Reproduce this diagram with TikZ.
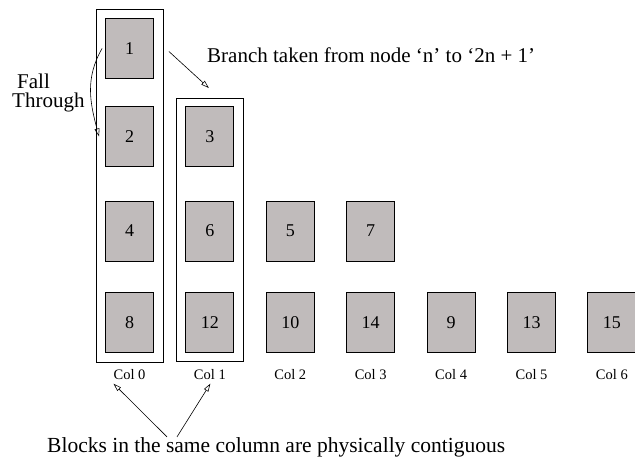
\documentclass[tikz,border=0pt]{standalone}
\usepackage{fontspec}
\setmainfont{Liberation Serif}
\usepackage{xcolor}
\usetikzlibrary{arrows.meta, positioning, fit, calc}
\definecolor{blockgray}{RGB}{192,187,187}

\begin{document}
\begin{tikzpicture}[x=1pt, y=1pt]
\tikzstyle{block}=[rectangle, draw, line width=0.9pt, fill=blockgray, minimum width=48pt, minimum height=60pt, inner sep=0pt, font=\fontsize{18}{18}\selectfont]
\tikzstyle{column}=[rectangle, draw, line width=0.7pt, inner sep=9pt]
\tikzstyle{collabel}=[font=\fontsize{14.5}{14.5}\selectfont]
\tikzstyle{caption}=[font=\fontsize{21}{19.5}\selectfont, inner sep=1pt]
\tikzstyle{arrow}=[-{Triangle[open, length=8pt, width=5pt]}, line width=0.6pt]

\useasboundingbox (0,0) rectangle (635,457);

% blocks: number / column / row height
\foreach \n/\c/\y in {1/0/408.5, 2/0/320.5, 3/1/320.5, 4/0/226, 6/1/226, 5/2/226, 7/3/226,
                      8/0/134.5, 12/1/134.5, 10/2/134.5, 14/3/134.5, 9/4/134.5, 13/5/134.5, 15/6/134.5}
  \node[block] (b\n) at (129.5+80.4*\c, \y) {\n};

\foreach \c in {0,...,6}
  \node[collabel] (col\c) at (129.5+80.4*\c, 82) {Col \c};

\node[column, fit=(b1)(b8)] (colZero) {};
\node[column, fit=(b3)(b12), inner ysep=8pt] (colOne) {};

\node[caption, anchor=base west] (branch) at (206,394) {Branch taken from node ‘n’ to ‘2n + 1’};
\node[caption, anchor=base west, align=left] (fall) at (11,349) {\hspace*{5pt}Fall\\Through};
\node[caption, anchor=base west, font=\fontsize{21.5}{21.5}\selectfont] (note) at (46,4) {Blocks in the same column are physically contiguous};

\draw[arrow] ([xshift=-3pt]b1.west) to[out=240, in=105] ([xshift=-6pt]b2.west);
\draw[arrow] ([shift={(15pt,-3pt)}]b1.east) -- ([shift={(-1pt,18pt)}]b3.north);
\draw[arrow] ([xshift=121pt]note.north west) -- ([xshift=-16pt]col0.south);
\draw[arrow] ([xshift=131pt]note.north west) -- ([xshift=0.5pt]col1.south);

\end{tikzpicture}
\end{document}
